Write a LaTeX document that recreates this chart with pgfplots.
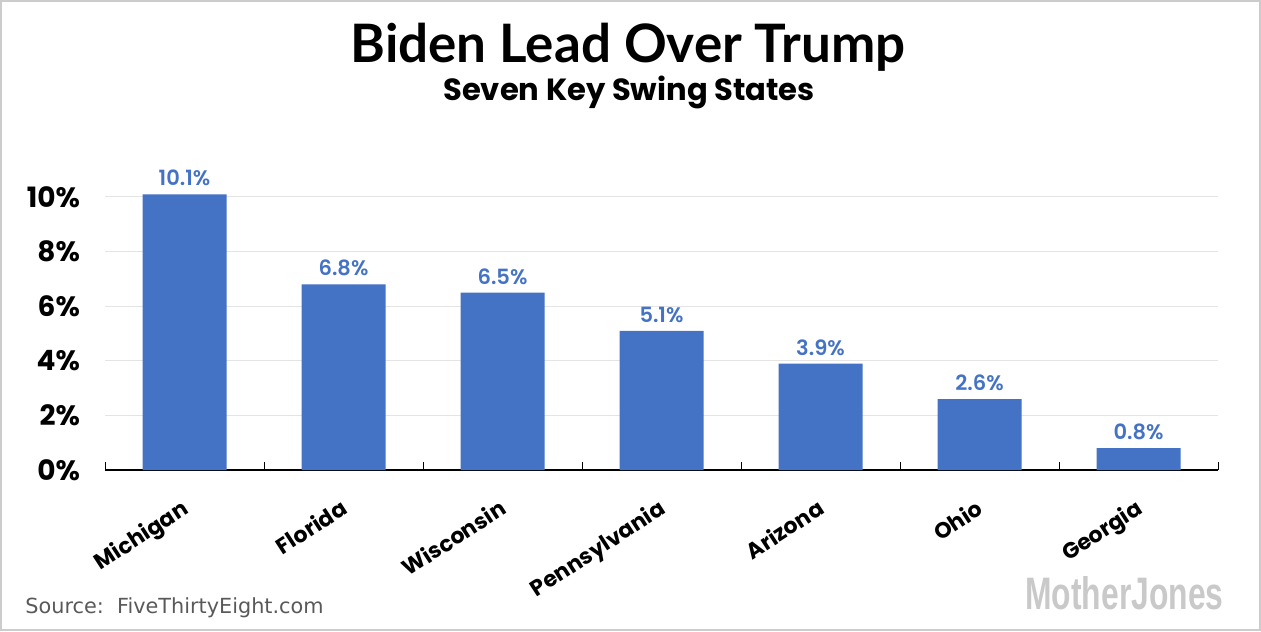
\documentclass[border=0pt]{standalone}
\usepackage{pgfplots}
\pgfplotsset{compat=1.18}
\usepackage{fontspec}
\setmainfont{Poppins}
\newfontfamily\semifont{Poppins SemiBold}
\newfontfamily\titlefont{Lato}
\newfontfamily\srcfont{DejaVu Sans}
\newfontfamily\logofont{Liberation Sans}
\definecolor{barblue}{HTML}{4472C4}
\definecolor{gridgray}{HTML}{E4E4E4}
\definecolor{srcgray}{HTML}{595959}
\definecolor{logogray}{HTML}{C9C9C9}
\definecolor{framegray}{HTML}{CCCCCC}

\begin{document}
\begin{tikzpicture}
\useasboundingbox (0,0) rectangle (630.5pt,315.5pt);
\draw[framegray, line width=1pt] (0.5pt,0.5pt) rectangle (630pt,315pt);
% titles
\node[anchor=base, inner sep=0, font=\titlefont\bfseries\fontsize{26.5}{30}\selectfont]
  at (314pt,284pt) {Biden Lead Over Trump};
\node[anchor=base, inner sep=0, font=\bfseries\fontsize{15.3}{18}\selectfont]
  at (314.5pt,265pt) {Seven Key Swing States};
% source and logo
\node[anchor=base west, inner sep=0, text=srcgray, font=\srcfont\fontsize{10.4}{12}\selectfont]
  at (12.5pt,9pt) {Source:\ \ FiveThirtyEight.com};
\node[anchor=south west, inner sep=0, text=logogray]
  at (512.5pt,10.5pt) {\resizebox{99pt}{16.5pt}{\logofont\bfseries MotherJones}};

\begin{axis}[
  at={(52.5pt,80.5pt)}, anchor=south west,
  scale only axis, width=556.5pt, height=136.5pt,
  ymin=0, ymax=10, xmin=-0.5, xmax=6.5,
  clip=false,
  ybar, bar width=42pt,
  axis x line*=bottom, axis y line*=left,
  y axis line style={draw=none},
  x axis line style={black, line width=0.7pt, -},
  ytick={0,2,...,10},
  ymajorgrids, grid style={gridgray, line width=0.5pt},
  major y tick style={draw=none},
  yticklabel={\pgfmathprintnumber{\tick}\%},
  yticklabel style={font=\bfseries\fontsize{14}{16}\selectfont, xshift=-9pt},
  xtick={0,...,6},
  xticklabels={Michigan,Florida,Wisconsin,Pennsylvania,Arizona,Ohio,Georgia},
  major x tick style={draw=none},
  minor xtick={-0.5,0.5,...,6.5},
  minor x tick style={black, line width=0.5pt},
  minor tick length=4pt, tick align=inside,
  xticklabel style={font=\bfseries\fontsize{11}{13}\selectfont, rotate=33,
    anchor=north east, yshift=-7pt, xshift=-6pt},
  /pgf/number format/assume math mode=true,
  nodes near coords={\pgfmathprintnumber[fixed,fixed zerofill,precision=1]{\pgfplotspointmeta}\%},
  every node near coord/.append style={font=\semifont\fontsize{10.5}{12}\selectfont,
    text=barblue, yshift=0.5pt},
]
\addplot[fill=barblue, draw=none] coordinates {
  (0,10.1) (1,6.8) (2,6.5) (3,5.1) (4,3.9) (5,2.6) (6,0.8)
};
\end{axis}
\end{tikzpicture}
\end{document}
